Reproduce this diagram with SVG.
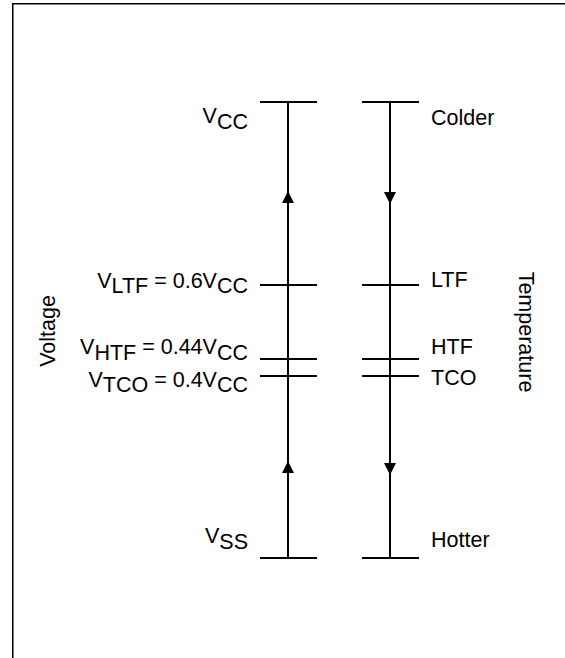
<svg xmlns="http://www.w3.org/2000/svg" width="565" height="658" viewBox="0 0 565 658">
<style>
  .ln{stroke:#000;stroke-width:2;fill:none}
  .t{font-family:"Liberation Sans",Arial,sans-serif;font-size:21.5px;fill:#000}
  .l{text-anchor:end}
</style>
<rect x="0" y="0" width="565" height="658" fill="#fff"/>
<rect x="12.75" y="3.75" width="600" height="700" fill="none" stroke="#000" stroke-width="1.5"/>

<g id="connectors">
  <line class="ln" x1="288" y1="102" x2="288" y2="558"/>
  <line class="ln" x1="390" y1="102" x2="390" y2="558"/>
  <path d="M282,203 L288,191 L294,203 Z" fill="#000"/>
  <path d="M282,473 L288,461 L294,473 Z" fill="#000"/>
  <path d="M384,192 L390,204 L396,192 Z" fill="#000"/>
  <path d="M384,463 L390,475 L396,463 Z" fill="#000"/>
</g>

<g id="vcc">
  <line class="ln" x1="260" y1="102" x2="317" y2="102"/>
  <text class="t l" x="248" y="123">V<tspan dy="6">CC</tspan></text>
</g>
<g id="vltf">
  <line class="ln" x1="260" y1="285" x2="317" y2="285"/>
  <text class="t l" x="248" y="288">V<tspan dy="5">LTF</tspan><tspan dy="-5"> = 0.6V</tspan><tspan dy="5">CC</tspan></text>
</g>
<g id="vhtf">
  <line class="ln" x1="260" y1="359" x2="317" y2="359"/>
  <text class="t l" x="248" y="354">V<tspan dy="6">HTF</tspan><tspan dy="-6"> = 0.44V</tspan><tspan dy="6">CC</tspan></text>
</g>
<g id="vtco">
  <line class="ln" x1="260" y1="376" x2="317" y2="376"/>
  <text class="t l" x="248" y="387">V<tspan dy="5">TCO</tspan><tspan dy="-5"> = 0.4V</tspan><tspan dy="5">CC</tspan></text>
</g>
<g id="vss">
  <line class="ln" x1="260" y1="558" x2="317" y2="558"/>
  <text class="t l" x="248" y="543">V<tspan dy="6">SS</tspan></text>
</g>

<g id="colder">
  <line class="ln" x1="362" y1="102" x2="419" y2="102"/>
  <text class="t" x="431" y="125">Colder</text>
</g>
<g id="ltf">
  <line class="ln" x1="362" y1="285" x2="419" y2="285"/>
  <text class="t" x="431" y="287">LTF</text>
</g>
<g id="htf">
  <line class="ln" x1="362" y1="359" x2="419" y2="359"/>
  <text class="t" x="431" y="354">HTF</text>
</g>
<g id="tco">
  <line class="ln" x1="362" y1="376" x2="419" y2="376"/>
  <text class="t" x="431" y="385">TCO</text>
</g>
<g id="hotter">
  <line class="ln" x1="362" y1="558" x2="419" y2="558"/>
  <text class="t" x="431" y="547">Hotter</text>
</g>

<g id="voltage">
  <text class="t" x="0" y="0" text-anchor="middle" transform="translate(55,331) rotate(-90)">Voltage</text>
</g>
<g id="temperature">
  <text class="t" x="0" y="0" text-anchor="middle" transform="translate(519,332) rotate(90)">Temperature</text>
</g>
</svg>
